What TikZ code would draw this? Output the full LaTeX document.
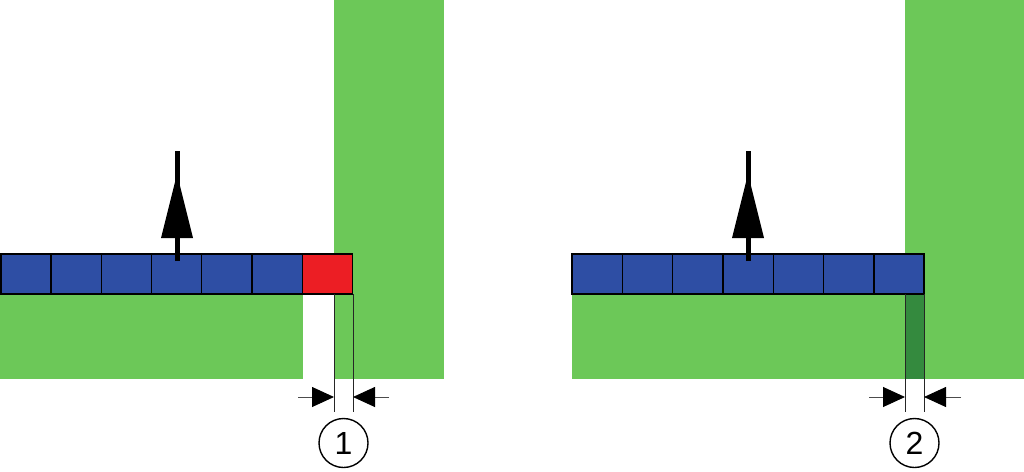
\documentclass[tikz,border=0pt]{standalone}
\usepackage{fontspec}
\setmainfont{Liberation Sans}
\usetikzlibrary{arrows.meta}
\definecolor{fieldgreen}{RGB}{108,200,88}
\definecolor{stripgreen}{RGB}{52,138,62}
\definecolor{cellblue}{RGB}{46,78,164}
\definecolor{cellred}{RGB}{236,30,36}
\tikzset{
  cell/.style={draw=black, line width=1.4pt, fill=cellblue, minimum width=50.3pt,
    minimum height=40pt, inner sep=0pt, outer sep=0pt},
  redcell/.style={cell, fill=cellred},
  field/.style={fill=fieldgreen, draw=none},
  shaft/.style={line width=5pt, black},
  headtri/.style={fill=black, draw=none},
  extline/.style={line width=1pt, black!85},
  dimarrow/.style={line width=0.9pt, black!70, -{Triangle[length=22pt,width=20pt,fill=black,color=black]}},
  label/.style={draw=black, line width=1.4pt, circle, minimum size=49pt, inner sep=0pt,
    font=\fontsize{32}{32}\selectfont}
}
\begin{document}
\begin{tikzpicture}[x=1pt,y=-1pt]
\useasboundingbox (0,0) rectangle (1024,471);
% ---------- left panel ----------
\fill[field] (0,294) rectangle (303,379);
\fill[field] (334,0) rectangle (444,379);
\foreach \i in {1,...,6}{
  \node[cell] (L\i) at ({1+50.2*(\i-1)+25.1},274) {};
}
\node[redcell] (L7) at (327.5,274) {};
% extension lines
\coordinate (La) at (334,294);
\coordinate (Lb) at (353,294);
\coordinate (La2) at (334,412);
\coordinate (Lb2) at (353,412);
\draw[extline] (La) -- (La2);
\draw[extline] (Lb) -- (Lb2);
\coordinate (Lda) at (298,397);
\coordinate (Ldat) at (334,397);
\coordinate (Ldb) at (389,397);
\coordinate (Ldbt) at (353,397);
\draw[dimarrow] (Lda) -- (Ldat);
\draw[dimarrow] (Ldb) -- (Ldbt);
\node[label] (n1) at (343.5,443) {1};
% travel arrow
\coordinate (Ltop) at (177,151);
\draw[shaft] (177,261) -- (Ltop);
\fill[headtri] (177,174) -- (161,238) -- (193,238) -- cycle;
% ---------- right panel ----------
\fill[field] (572,294) rectangle (905,379);
\fill[field] (905,0) rectangle (1024,379);
\fill[stripgreen] (905,294) rectangle (924,379);
\foreach \i in {1,...,7}{
  \node[cell] (R\i) at ({572+50.3*(\i-1)+25.15},274) {};
}
\coordinate (Ra) at (905,294);
\coordinate (Rb) at (924,294);
\coordinate (Ra2) at (905,412);
\coordinate (Rb2) at (924,412);
\draw[extline] (Ra) -- (Ra2);
\draw[extline] (Rb) -- (Rb2);
\coordinate (Rda) at (869,397);
\coordinate (Rdat) at (905,397);
\coordinate (Rdb) at (961,397);
\coordinate (Rdbt) at (924,397);
\draw[dimarrow] (Rda) -- (Rdat);
\draw[dimarrow] (Rdb) -- (Rdbt);
\node[label] (n2) at (914.5,443) {2};
\coordinate (Rtop) at (748,151);
\draw[shaft] (748,261) -- (Rtop);
\fill[headtri] (748,174) -- (732,238) -- (764,238) -- cycle;
\end{tikzpicture}
\end{document}
